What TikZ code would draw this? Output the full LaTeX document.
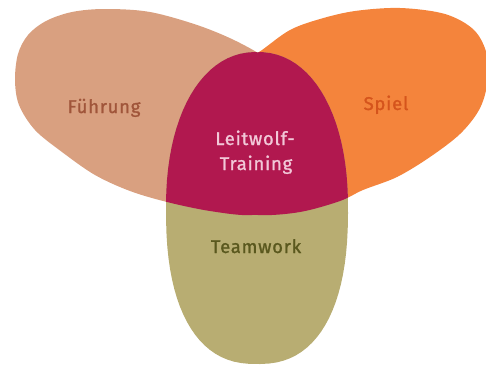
\documentclass[tikz,border=0pt]{standalone}
\usepackage{fontspec}
\setmainfont{Fira Sans}
\newfontfamily\lblfont{Fira Sans}[FakeBold=1.2, LetterSpace=4]
\definecolor{tanfill}{HTML}{D9A080}
\definecolor{orangefill}{HTML}{F4843C}
\definecolor{magentafill}{HTML}{B1184F}
\definecolor{olivefill}{HTML}{B8AD72}
\definecolor{tantext}{HTML}{A0553A}
\definecolor{orangetext}{HTML}{D5541C}
\definecolor{magentatext}{HTML}{F2C8D8}
\definecolor{olivetext}{HTML}{5A581E}
\begin{document}
\begin{tikzpicture}[x=1pt,y=-1pt,
  lbl/.style={font=\lblfont\fontsize{18.5}{25}\selectfont, anchor=base, inner sep=0pt, align=center},
  egg/.style={smooth cycle, tension=0.55}]
\useasboundingbox (0,0) rectangle (486,367);
\clip (0,0) rectangle (486,367);
% left egg (Fuehrung)
\fill[tanfill] plot[egg] coordinates {(15,80) (18,54) (28,35) (46,21) (72,12) (105,9) (150,12) (200,26) (240,43) (270,62) (292,92) (304,132) (302,175) (285,205) (252,215) (210,211) (167,202) (130,191) (95,175) (62,152) (35,130) (19,105)};
% right egg (Spiel)
\fill[orangefill] plot[egg] coordinates {(262,50) (290,30) (320,19) (355,11) (400,8) (445,14) (474,30) (487,55) (487,85) (479,110) (460,134) (430,157) (397,177) (363,190) (340,201) (300,212) (258,215) (224,207) (211,175) (212,130) (225,90) (243,63)};
% bottom egg (Teamwork)
\fill[olivefill] plot[domain=1:357, samples=90, variable=\t]
  ({257+91*sign(cos(\t))*pow(abs(cos(\t)),(sin(\t)<0 ? 0.92 : 0.83))}, {208+156*sign(sin(\t))*pow(abs(sin(\t)),(sin(\t)<0 ? 0.92 : 0.83))}) -- cycle;
% centre overlap
\begin{scope}
  \clip plot[domain=1:357, samples=90, variable=\t]
    ({257+91*sign(cos(\t))*pow(abs(cos(\t)),(sin(\t)<0 ? 0.92 : 0.83))}, {208+156*sign(sin(\t))*pow(abs(sin(\t)),(sin(\t)<0 ? 0.92 : 0.83))}) -- cycle;
  \fill[magentafill] plot[egg] coordinates {(15,80) (18,54) (28,35) (46,21) (72,12) (105,9) (150,12) (200,26) (240,43) (270,62) (292,92) (304,132) (302,175) (285,205) (252,215) (210,211) (167,202) (130,191) (95,175) (62,152) (35,130) (19,105)};
  \fill[magentafill] plot[egg] coordinates {(262,50) (290,30) (320,19) (355,11) (400,8) (445,14) (474,30) (487,55) (487,85) (479,110) (460,134) (430,157) (397,177) (363,190) (340,201) (300,212) (258,215) (224,207) (211,175) (212,130) (225,90) (243,63)};
\end{scope}
\node[lbl, text=tantext] (fuehrung) at (104,113) {Führung};
\node[lbl, text=orangetext] (spiel) at (386,110) {Spiel};
\node[lbl, text=magentatext] (leit1) at (255,145) {Leitwolf-};
\node[lbl, text=magentatext] (leit2) at (256,170) {Training};
\node[lbl, text=olivetext] (team) at (256,253) {Teamwork};
\end{tikzpicture}
\end{document}
